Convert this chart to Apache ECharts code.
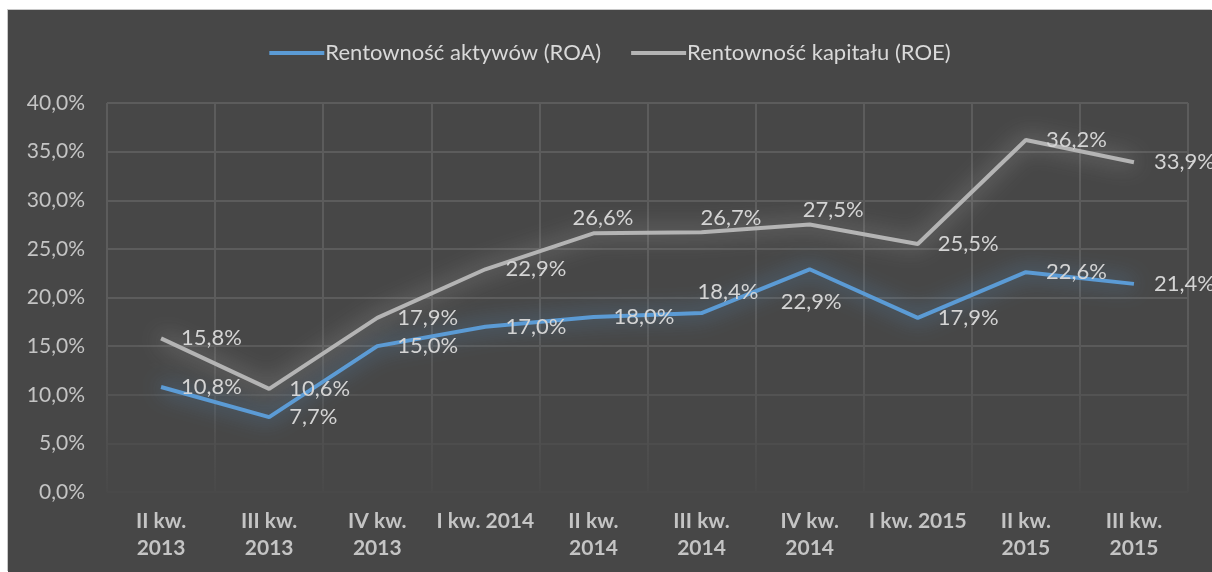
<!DOCTYPE html>
<html>
<head>
<meta charset="utf-8">
<script src="https://cdn.jsdelivr.net/npm/echarts@6/dist/echarts.min.js"></script>
<style>
  html, body { margin: 0; padding: 0; background: #ffffff; }
  #chart {
    position: absolute;
    left: 8px;
    top: 10px;
    width: 1204px;
    height: 562px;
    background: #474747;
    box-shadow: -1px -1px 0 #c8c8c8;
  }
</style>
</head>
<body>
<div id="chart"></div>
<script>
// kwartały
const categories = [
  'II kw.\n2013', 'III kw.\n2013', 'IV kw.\n2013', 'I kw. 2014', 'II kw.\n2014',
  'III kw.\n2014', 'IV kw.\n2014', 'I kw. 2015', 'II kw.\n2015', 'III kw.\n2015'
];
// rentowność w %
const roa = [10.8, 7.7, 15.0, 17.0, 18.0, 18.4, 22.9, 17.9, 22.6, 21.4];
const roe = [15.8, 10.6, 17.9, 22.9, 26.6, 26.7, 27.5, 25.5, 36.2, 33.9];
const yTicks = [0, 5, 10, 15, 20, 25, 30, 35, 40];

const font = 'Lato, "Open Sans", sans-serif';
const fmt = v => v.toFixed(1).replace('.', ',') + '%';

let myChart = echarts.init(document.getElementById('chart'));

// etykiety przesunięte ręcznie (jak w oryginale)
const roaShift = { 5: [-24, -21], 6: [-49, 33] };
const roeShift = { 4: [-41, -15], 5: [-21, -14], 6: [-27, -15] };

function withShift(values, shifts) {
  return values.map((v, i) => {
    if (shifts[i]) {
      return { value: v, label: { offset: shifts[i] } };
    }
    return v;
  });
}

let labelStyle = {
  show: true,
  position: 'right',
  distance: 20,
  color: '#d4d4d4',
  fontSize: 22,
  fontFamily: font,
  formatter: p => fmt(p.value)
};

// linie siatki gasną ku dołowi
let hGrid = ['#494949', '#4d4d4d', '#535353', '#5a5a5a', '#5c5c5c', '#5c5c5c', '#5c5c5c', '#5c5c5c', '#5c5c5c'];
let vGrid = new echarts.graphic.LinearGradient(0, 300, 0, 482, [
  { offset: 0, color: '#5c5c5c' },
  { offset: 0.5, color: '#545454' },
  { offset: 1, color: '#494949' }
], true);

let option = {
  animation: false,
  textStyle: { fontFamily: font },
  legend: {
    top: 27,
    left: 'center',
    icon: 'rect',
    itemWidth: 55,
    itemHeight: 4,
    itemGap: 30,
    textStyle: { color: '#d9d9d9', fontSize: 22, fontFamily: font, padding: [0, 0, 0, -4] },
    data: ['Rentowność aktywów (ROA)', 'Rentowność kapitału (ROE)']
  },
  grid: {
    left: 99,
    right: 24,
    top: 93,
    bottom: 80
  },
  xAxis: {
    type: 'category',
    data: categories,
    boundaryGap: true,
    axisLine: { show: false },
    axisTick: { show: false },
    splitLine: { show: true, lineStyle: { color: vGrid, width: 2 } },
    axisLabel: {
      color: '#c4c4c4',
      fontSize: 21,
      fontWeight: 'bold',
      fontFamily: font,
      lineHeight: 27,
      margin: 16,
      interval: 0
    }
  },
  yAxis: {
    type: 'value',
    min: yTicks[0],
    max: yTicks[yTicks.length - 1],
    interval: 5,
    axisLine: { show: false },
    axisTick: { show: false },
    splitLine: { lineStyle: { color: hGrid, width: 2 } },
    axisLabel: {
      color: '#c4c4c4',
      fontSize: 21,
      fontFamily: font,
      margin: 22,
      formatter: v => fmt(v)
    }
  },
  series: [
    {
      name: 'Rentowność aktywów (ROA)',
      type: 'line',
      data: withShift(roa, roaShift),
      symbol: 'circle',
      symbolSize: 0.1,
      showSymbol: true,
      color: '#5b9bd5',
      lineStyle: {
        width: 4,
        color: '#5b9bd5',
        shadowColor: 'rgba(91,155,213,0.9)',
        shadowBlur: 22
      },
      label: labelStyle
    },
    {
      name: 'Rentowność kapitału (ROE)',
      type: 'line',
      data: withShift(roe, roeShift),
      symbol: 'circle',
      symbolSize: 0.1,
      showSymbol: true,
      color: '#b4b4b4',
      lineStyle: {
        width: 4,
        color: '#b4b4b4',
        shadowColor: 'rgba(210,210,210,0.7)',
        shadowBlur: 22
      },
      label: labelStyle
    }
  ]
};

myChart.setOption(option);
</script>
</body>
</html>
